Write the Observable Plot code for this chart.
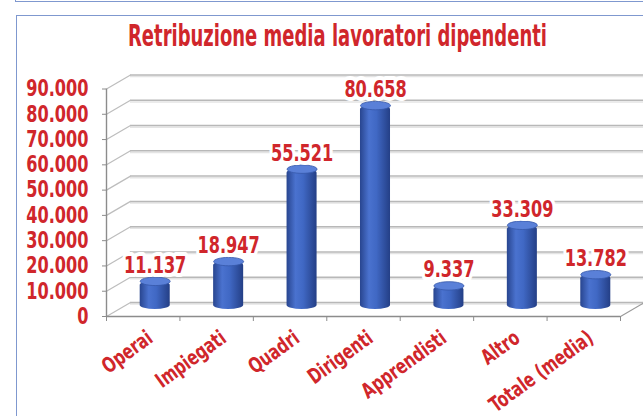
<!DOCTYPE html>
<html>
<head>
<meta charset="utf-8">
<script src="https://cdn.jsdelivr.net/npm/d3@7"></script>
<script src="https://cdn.jsdelivr.net/npm/@observablehq/plot@0.6"></script>
<style>
  html, body { margin: 0; padding: 0; background: #fff; }
  body { width: 643px; height: 416px; position: relative; overflow: hidden; }
  #strip { position: absolute; left: 15px; top: -5px; width: 640px; height: 6px;
           border-left: 1.5px solid #7f98cf; border-bottom: 1.5px solid #7f98cf; }
  #box { position: absolute; left: 16px; top: 15px; width: 640px; height: 420px;
         border-left: 1.5px solid #7f98cf; border-top: 1.5px solid #7f98cf; }
  #title { position: absolute; left: 0; width: 643px; top: 21px; height: 30px; line-height: 30px;
           text-align: left; white-space: nowrap; }
  #title span { display: inline-block; font-family: "Liberation Sans Narrow", "Arial Narrow", "DejaVu Sans Condensed", sans-serif;
           font-weight: bold; font-size: 30px; color: #d0262b; transform-origin: 0 0; }
  #chart { position: absolute; left: 0; top: 60px; }
</style>
</head>
<body>
<div id="strip"></div>
<div id="box"></div>
<div id="title"><span id="ttext">Retribuzione media lavoratori dipendenti</span></div>
<svg width="0" height="0" style="position:absolute">
  <defs>
    <linearGradient id="cyl" x1="0" x2="1" y1="0" y2="0">
      <stop offset="0%" stop-color="#28458f"/>
      <stop offset="30%" stop-color="#4a72cf"/>
      <stop offset="55%" stop-color="#4068c4"/>
      <stop offset="100%" stop-color="#243f86"/>
    </linearGradient>
  </defs>
</svg>
<div id="chart"></div>
<script>
const categories = ["Operai", "Impiegati", "Quadri", "Dirigenti", "Apprendisti", "Altro", "Totale (media)"];
const values = [11137, 18947, 55521, 80658, 9337, 33309, 13782];
const yTicks = [0, 10000, 20000, 30000, 40000, 50000, 60000, 70000, 80000, 90000];

const RED = "#d0262b";
const FONT = '"Liberation Sans Narrow", "Arial Narrow", "DejaVu Sans Condensed", sans-serif';
const fmt = d3.formatLocale({decimal: ",", thousands: ".", grouping: [3], currency: ["€", ""]}).format(",d");

const data = categories.map((c, i) => ({c, i, v: values[i]}));

// layout (pixels)
const W = 643, H = 356, ML = 106, MR = 23, MT = 28.5, MB = 100;
const DEPTH_X = 24, DEPTH_Y = 14;
const dxU = DEPTH_X / ((W - ML - MR) / categories.length);
const dyU = DEPTH_Y / ((H - MT - MB) / 90000);

// cylinder cap symbol (ellipse)
const capSymbol = {
  draw(ctx) {
    const rx = 15, ry = 4.2, k = 0.5523;
    ctx.moveTo(-rx, 0);
    ctx.bezierCurveTo(-rx, -ry * k, -rx * k, -ry, 0, -ry);
    ctx.bezierCurveTo(rx * k, -ry, rx, -ry * k, rx, 0);
    ctx.bezierCurveTo(rx, ry * k, rx * k, ry, 0, ry);
    ctx.bezierCurveTo(-rx * k, ry, -rx, ry * k, -rx, 0);
    ctx.closePath();
  }
};

const chart = Plot.plot({
  width: W, height: H,
  marginLeft: ML, marginRight: MR, marginTop: MT, marginBottom: MB,
  style: {fontFamily: FONT, background: "transparent", overflow: "visible"},
  x: {domain: [0, categories.length], axis: null, label: null},
  y: {domain: [0, 90000], axis: null, label: null},
  marks: [
    // back wall gridlines (with light shadow)
    Plot.ruleY(yTicks, {dx: DEPTH_X, dy: -DEPTH_Y + 1.6, stroke: "#e4e4e4", strokeWidth: 1.5}),
    Plot.ruleY(yTicks, {dx: DEPTH_X, dy: -DEPTH_Y, stroke: "#b8b8b8", strokeWidth: 1.5}),
    // side wall diagonals
    Plot.link(yTicks, {x1: 0, y1: d => d, x2: dxU, y2: d => d + dyU, stroke: "#bdbdbd", strokeWidth: 1.2}),
    // floor right edge
    Plot.link([0], {x1: categories.length, y1: 0, x2: categories.length + dxU, y2: dyU, stroke: "#9a9a9a", strokeWidth: 1.2}),
    // front axes
    Plot.ruleY([0], {stroke: "#8c8c8c", strokeWidth: 1.6}),
    Plot.ruleX([0], {y1: 0, y2: 90000, stroke: "#8c8c8c", strokeWidth: 1.4}),
    Plot.axisX({ticks: d3.range(0, categories.length + 1), tickSize: 5, tickFormat: () => "", stroke: "#8c8c8c", label: null}),
    Plot.axisY({ticks: yTicks, tickSize: 4, tickFormat: () => "", stroke: "#8c8c8c", label: null}),
    // y tick labels
    Plot.text(yTicks, {x: 0, y: d => d, text: d => fmt(d), textAnchor: "end", dx: -18,
      fill: RED, fontSize: 23, fontWeight: "bold", fontFamily: FONT}),
    // cylinders
    Plot.rect(data, {x1: d => d.i, x2: d => d.i + 1, y1: 0, y2: "v", insetLeft: 21.7, insetRight: 21.7,
      dx: 12, dy: -7, fill: "url(#cyl)", rx: 15, ry: 4}),
    Plot.dot(data, {x: d => d.i + 0.5, y: "v", dx: 12, dy: -7, symbol: capSymbol, r: 1,
      fill: "#5a80d8", stroke: "#3658aa", strokeWidth: 0.8}),
    // value labels
    Plot.text(data, {x: d => d.i + 0.5, y: "v", text: d => fmt(d.v), dx: 12, dy: -23,
      fill: RED, stroke: "white", strokeWidth: 8, fontSize: 23, fontWeight: "bold", fontFamily: FONT}),
    // category labels
    Plot.text(data, {x: d => d.i + 0.5, y: 0, text: "c", dx: 7, dy: 19, rotate: -36, textAnchor: "end",
      fill: RED, fontSize: 21, fontWeight: "bold", fontFamily: FONT})
  ]
});
document.getElementById("chart").appendChild(chart);

// condense all chart texts horizontally (narrow face not installed)
chart.querySelectorAll('g[aria-label="text"] text').forEach(el => {
  const tr = el.getAttribute("transform") || "";
  const sx = tr.includes("rotate") ? 0.8 : 0.78;
  el.setAttribute("transform", tr + ` scale(${sx},1)`);
});

// fit title width
const t = document.getElementById("ttext");
const w = t.getBoundingClientRect().width;
const target = 419;
const s = target / w;
t.style.transform = `scaleX(${s})`;
t.style.marginLeft = (337 - target / 2) + "px";
</script>
</body>
</html>
